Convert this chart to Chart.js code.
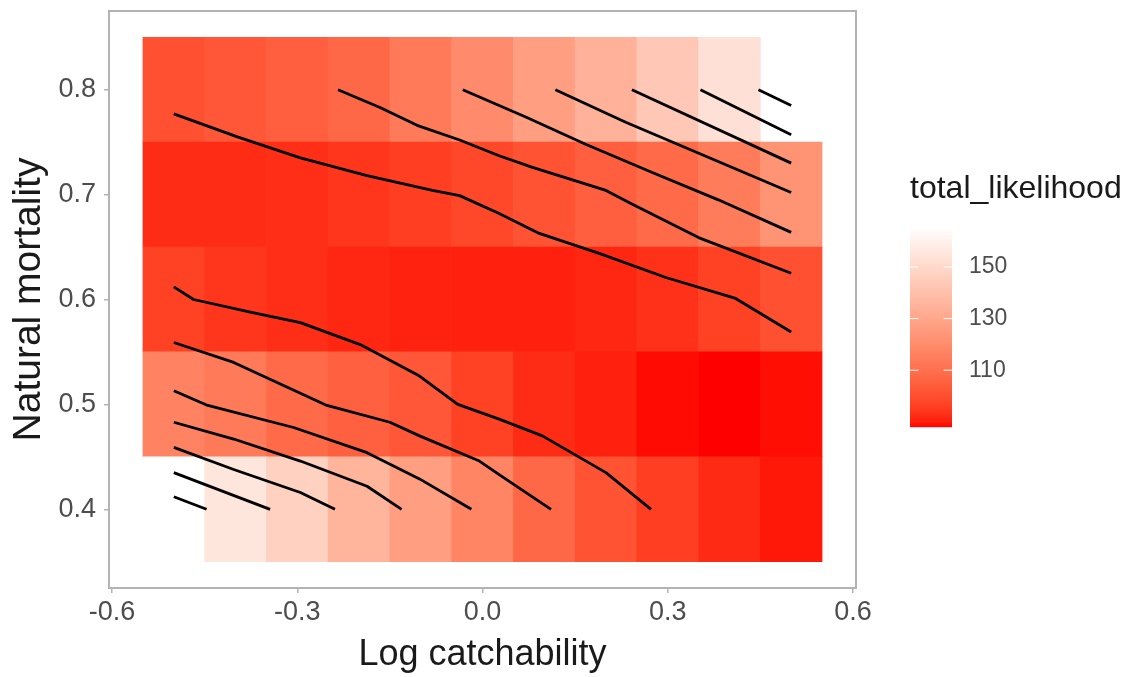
<!DOCTYPE html>
<html>
<head>
<meta charset="utf-8">
<title>total_likelihood</title>
<script src="https://cdn.jsdelivr.net/npm/chart.js@4.4.1/dist/chart.umd.min.js"></script>
<style>
    html, body { margin: 0; padding: 0; background: #fff; }
    #wrap { width: 1126px; height: 677px; }
</style>
</head>
<body>
<div id="wrap"><canvas id="chartLik" width="1126" height="677"></canvas></div>
<script>
// grid of the profile
const logCatch = [-0.5, -0.4, -0.3, -0.2, -0.1, 0.0, 0.1, 0.2, 0.3, 0.4, 0.5];
const natMort = [0.4, 0.5, 0.6, 0.7, 0.8];

// total likelihood per row (one value per log catchability; top row has no tile at 0.5)
const lik04 = [165.5, 155.4, 146.9, 135.3, 126.8, 117.5, 107.4, 101.2, 95.8, 91.9, 89.6];
const lik05 = [116.7, 113.6, 108.2, 105.1, 102.3, 96.5, 92.3, 90.6, 88.6, 88.0, 88.8];
const lik06 = [96.5, 94.2, 92.8, 91.5, 90.9, 90.6, 90.7, 91.5, 93.4, 96.5, 100.4];
const lik07 = [92.3, 92.3, 92.8, 94.2, 95.8, 98.1, 101.2, 104.7, 108.2, 114.4, 122.9];
const lik08 = [100.4, 102.3, 104.7, 107.4, 113.6, 119.8, 126.8, 134.5, 143.0, 153.1];
const likRows = [lik04, lik05, lik06, lik07, lik08];

// contour lines [logq, M]
const contour1 = [[0.447, 0.8], [0.5, 0.785]];
const contour2 = [[0.353, 0.8], [0.5, 0.757]];
const contour3 = [[0.242, 0.8], [0.5, 0.730]];
const contour4 = [[0.118, 0.8], [0.232, 0.769], [0.5, 0.702]];
const contour5 = [[-0.032, 0.8], [0.070, 0.774], [0.167, 0.748], [0.275, 0.721], [0.382, 0.695], [0.5, 0.664]];
const contour6 = [[-0.234, 0.8], [-0.166, 0.783], [-0.106, 0.766], [-0.037, 0.752], [0.027, 0.737], [0.081, 0.726], [0.2, 0.704], [0.242, 0.691], [0.35, 0.659], [0.5, 0.625]];
const contour7 = [[-0.5, 0.777], [-0.397, 0.755], [-0.295, 0.735], [-0.187, 0.718], [-0.081, 0.704], [-0.037, 0.699], [0.027, 0.682], [0.092, 0.663], [0.189, 0.644], [0.297, 0.621], [0.41, 0.601], [0.5, 0.569]];
const contour8 = [[-0.5, 0.612], [-0.468, 0.600], [-0.376, 0.588], [-0.295, 0.578], [-0.198, 0.557], [-0.102, 0.527], [-0.040, 0.500], [0.027, 0.486], [0.097, 0.470], [0.2, 0.435], [0.273, 0.4]];
const contour9 = [[-0.5, 0.559], [-0.403, 0.540], [-0.252, 0.499], [-0.150, 0.483], [-0.102, 0.470], [-0.005, 0.446], [0.027, 0.433], [0.111, 0.4]];
const contour10 = [[-0.5, 0.513], [-0.445, 0.499], [-0.306, 0.478], [-0.187, 0.454], [-0.102, 0.429], [-0.018, 0.4]];
const contour11 = [[-0.5, 0.483], [-0.403, 0.467], [-0.295, 0.446], [-0.187, 0.422], [-0.131, 0.4]];
const contour12 = [[-0.5, 0.459], [-0.403, 0.438], [-0.295, 0.416], [-0.239, 0.4]];
const contour13 = [[-0.5, 0.435], [-0.344, 0.4]];
const contour14 = [[-0.5, 0.412], [-0.447, 0.4]];
const contours = [contour1, contour2, contour3, contour4, contour5, contour6, contour7,
    contour8, contour9, contour10, contour11, contour12, contour13, contour14];

const xTicks = [-0.6, -0.3, 0.0, 0.3, 0.6];
const yTicks = [0.4, 0.5, 0.6, 0.7, 0.8];
const legendTicks = [110, 130, 150];

const FONT = '"Liberation Sans", Arial, sans-serif';
Chart.defaults.font.family = FONT;

const allLik = likRows.flat();
const likMin = Math.min(...allLik);
const likMax = Math.max(...allLik);

// red -> white gradient, interpolated in Lab like scale_fill_gradient
function toLin(c) { c /= 255; return c <= 0.04045 ? c / 12.92 : Math.pow((c + 0.055) / 1.055, 2.4); }
function toSrgb(c) {
    c = Math.max(0, Math.min(1, c));
    return Math.round(255 * (c <= 0.0031308 ? 12.92 * c : 1.055 * Math.pow(c, 1 / 2.4) - 0.055));
}
function rgbToLab(rgb) {
    const [r, g, b] = rgb.map(toLin);
    const X = (0.4124 * r + 0.3576 * g + 0.1805 * b) / 0.95047;
    const Y = 0.2126 * r + 0.7152 * g + 0.0722 * b;
    const Z = (0.0193 * r + 0.1192 * g + 0.9505 * b) / 1.08883;
    const f = t => t > 0.008856 ? Math.cbrt(t) : 7.787 * t + 16 / 116;
    return [116 * f(Y) - 16, 500 * (f(X) - f(Y)), 200 * (f(Y) - f(Z))];
}
function labToRgb(lab) {
    const fy = (lab[0] + 16) / 116, fx = fy + lab[1] / 500, fz = fy - lab[2] / 200;
    const inv = t => t * t * t > 0.008856 ? t * t * t : (t - 16 / 116) / 7.787;
    const X = inv(fx) * 0.95047, Y = inv(fy), Z = inv(fz) * 1.08883;
    const r = 3.2406 * X - 1.5372 * Y - 0.4986 * Z;
    const g = -0.9689 * X + 1.8758 * Y + 0.0415 * Z;
    const b = 0.0557 * X - 0.2040 * Y + 1.0570 * Z;
    return [toSrgb(r), toSrgb(g), toSrgb(b)];
}
const labLow = rgbToLab([255, 0, 0]);
const labHigh = rgbToLab([255, 255, 255]);
function fillColour(v) {
    const t = Math.max(0, Math.min(1, (v - likMin) / (likMax - likMin)));
    const lab = labLow.map((c, i) => c + (labHigh[i] - c) * t);
    const [r, g, b] = labToRgb(lab);
    return `rgb(${r},${g},${b})`;
}

const tileSets = likRows.map((row, i) => ({
    type: 'bar',
    label: 'M ' + natMort[i],
    data: row.map((v, j) => ({ x: logCatch[j], y: [natMort[i] - 0.05, natMort[i] + 0.05] })),
    backgroundColor: row.map(fillColour),
    borderWidth: 0,
    grouped: false,
    barPercentage: 1,
    categoryPercentage: 1,
    order: 1
}));

const lineSets = contours.map((c, i) => ({
    type: 'line',
    label: 'contour ' + (i + 1),
    data: c.map(p => ({ x: p[0], y: p[1] })),
    borderColor: '#000',
    borderWidth: 2.8,
    borderJoinStyle: 'round',
    pointRadius: 0,
    fill: false,
    tension: 0,
    order: 0
}));

const panelBorder = {
    id: 'panelBorder',
    afterDatasetsDraw(chart) {
        const { ctx, chartArea: a } = chart;
        ctx.save();
        ctx.strokeStyle = '#B3B3B3';
        ctx.lineWidth = 2;
        ctx.strokeRect(a.left, a.top, a.right - a.left, a.bottom - a.top);
        ctx.restore();
    }
};

const colourBar = {
    id: 'colourBar',
    afterDraw(chart) {
        const ctx = chart.ctx;
        const x0 = 910, w = 42, top = 227, h = 200;
        const yOf = v => top + h - (v - likMin) / (likMax - likMin) * h;
        ctx.save();
        for (let p = 0; p < h; p++) {
            const v = likMin + (1 - (p + 0.5) / h) * (likMax - likMin);
            ctx.fillStyle = fillColour(v);
            ctx.fillRect(x0, top + p, w, 1.2);
        }
        ctx.strokeStyle = '#fff';
        ctx.lineWidth = 1;
        ctx.fillStyle = '#4D4D4D';
        ctx.font = '23px ' + FONT;
        ctx.textBaseline = 'middle';
        legendTicks.forEach(v => {
            const y = yOf(v);
            ctx.beginPath();
            ctx.moveTo(x0, y); ctx.lineTo(x0 + w / 5, y);
            ctx.moveTo(x0 + w * 4 / 5, y); ctx.lineTo(x0 + w, y);
            ctx.stroke();
            ctx.fillText(String(v), 969, y);
        });
        ctx.fillStyle = '#1A1A1A';
        ctx.font = '32px ' + FONT;
        ctx.textBaseline = 'alphabetic';
        ctx.fillText('total_likelihood', 910, 198);
        ctx.restore();
    }
};

new Chart(document.getElementById('chartLik'), {
    type: 'bar',
    data: { datasets: [...lineSets, ...tileSets] },
    options: {
        responsive: false,
        devicePixelRatio: 1,
        animation: false,
        events: [],
        layout: { padding: { top: 11, right: 270, bottom: 0, left: 0 } },
        plugins: { legend: { display: false }, tooltip: { enabled: false } },
        scales: {
            x: {
                type: 'linear',
                min: -0.605,
                max: 0.605,
                offset: false,
                afterBuildTicks: s => { s.ticks = xTicks.map(v => ({ value: v })); },
                afterFit: s => { s.height = 89; s.paddingLeft = 0; s.paddingRight = 0; },
                grid: { drawOnChartArea: false, drawTicks: true, tickLength: 5, color: '#B3B3B3', lineWidth: 1.5, offset: false },
                border: { display: false },
                ticks: { color: '#4D4D4D', font: { size: 27 }, padding: 3, maxRotation: 0, autoSkip: false, callback: v => v.toFixed(1) },
                title: { display: true, text: 'Log catchability', color: '#1A1A1A', font: { size: 36 }, padding: { top: 0, bottom: 0 } }
            },
            y: {
                type: 'linear',
                min: 0.325,
                max: 0.875,
                afterBuildTicks: s => { s.ticks = yTicks.map(v => ({ value: v })); },
                afterFit: s => { s.width = 109; s.paddingTop = 0; s.paddingBottom = 0; },
                grid: { drawOnChartArea: false, drawTicks: true, tickLength: 5, color: '#B3B3B3', lineWidth: 1.5 },
                border: { display: false },
                ticks: { color: '#4D4D4D', font: { size: 27 }, padding: 8, callback: v => v.toFixed(1) },
                title: { display: true, text: 'Natural mortality', color: '#1A1A1A', font: { size: 39 }, padding: { top: 6, bottom: 0 } }
            }
        }
    },
    plugins: [panelBorder, colourBar]
});
</script>
</body>
</html>
